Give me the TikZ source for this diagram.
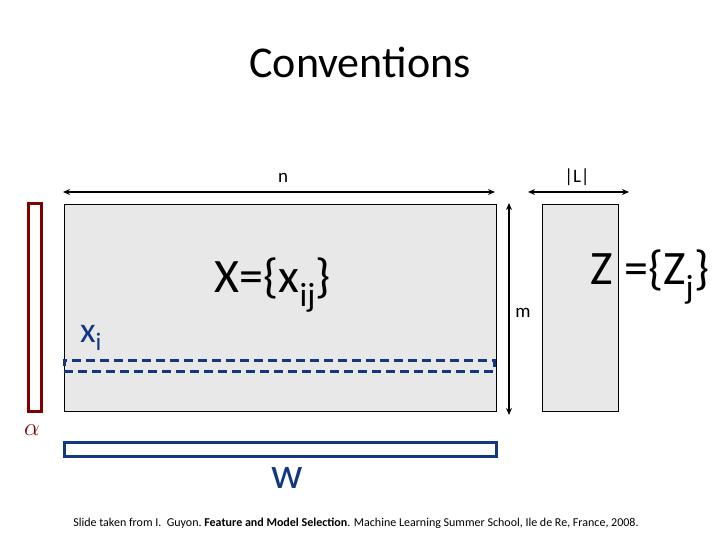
\documentclass[tikz,border=0pt]{standalone}
\usepackage{fontspec}
\setmainfont{Carlito}
\usetikzlibrary{arrows.meta}
\definecolor{mgray}{HTML}{E8E8E8}
\definecolor{dred}{RGB}{128,0,0}
\definecolor{dblue}{RGB}{20,55,130}
\begin{document}
\begin{tikzpicture}[x=1pt,y=-1pt,
  dimarrow/.style={line width=1.4pt,{Stealth[length=7pt,width=6pt]}-{Stealth[length=7pt,width=6pt]}},
  matbox/.style={draw=black,fill=mgray,line width=0.8pt},
  lbl/.style={inner sep=0pt,anchor=center}]
\useasboundingbox (0,0) rectangle (720,540);
\node[lbl] (title) at (360,62) {\fontsize{44}{48}\selectfont Conventions};
% main matrix
\node[matbox,minimum width=432pt,minimum height=207pt,inner sep=0pt] (X) at (280,307.5) {};
\node[matbox,minimum width=76pt,minimum height=207pt,inner sep=0pt] (Z) at (580,307.5) {};
% dimension arrows
\coordinate (nL) at (63,192); \coordinate (nR) at (495,192);
\draw[dimarrow] (nL) -- (nR);
\node[lbl] (n) at (283,178) {\fontsize{19}{21}\selectfont n};
\coordinate (LL) at (528,192); \coordinate (LR) at (629,192);
\draw[dimarrow] (LL) -- (LR);
\node[lbl] (L) at (577,177) {\fontsize{19}{21}\selectfont |L|};
\coordinate (mT) at (509,203); \coordinate (mB) at (509,415);
\draw[dimarrow] (mT) -- (mB);
\node[lbl] (m) at (523,313) {\fontsize{19}{21}\selectfont m};
% labels
\node[lbl] (Xl) at (273,285) {\fontsize{48}{52}\selectfont X=\{x\textsubscript{ij}\}};
\node[lbl] (Zl) at (650,277) {\fontsize{48}{52}\selectfont Z =\{Z\textsubscript{j}\}};
% alpha
\node[draw=dred,line width=3pt,minimum width=13pt,minimum height=207pt,inner sep=0pt] (a) at (34.5,307.5) {};
\node[lbl,text=dred] (al) at (32,430) {\fontsize{30}{32}\selectfont$\alpha$};
% xi
\node[lbl,text=dblue] (xi) at (91,338) {\fontsize{36}{38}\selectfont x\textsubscript{i}};
\node[draw=dblue,dashed,dash pattern=on 9pt off 5pt,line width=3pt,minimum width=430pt,minimum height=11pt,inner sep=0pt] (row) at (279,365.5) {};
% w
\node[draw=dblue,line width=3pt,fill=white,minimum width=432pt,minimum height=14pt,inner sep=0pt] (w) at (280.5,449.5) {};
\node[lbl,text=dblue] (wl) at (287,478) {\fontsize{44}{46}\selectfont w};
% footer
\node[lbl] (foot) at (356,523) {\fontsize{12}{14}\selectfont Slide taken from I.\ \ Guyon.\ \textbf{Feature and Model Selection}. Machine Learning Summer School, Ile de Re, France, 2008.};
\end{tikzpicture}
\end{document}
